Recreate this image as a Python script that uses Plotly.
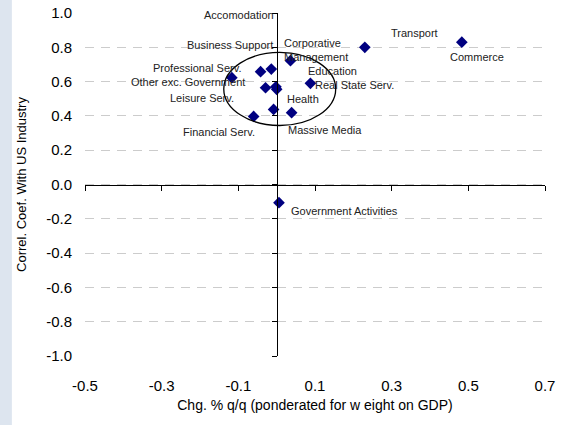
import plotly.graph_objects as go

# ---- data ----
sectors = ["Transport", "Commerce", "Government Activities", "Corporative<br>Management",
           "Accomodation", "Business Support", "Professional Serv.", "Other exc. Government",
           "Leisure Serv.", "Education", "Real State Serv.", "Health", "Financial Serv.",
           "Massive Media"]
chg_qq = [0.23, 0.483, 0.006, 0.036, -0.002, -0.014, -0.042, -0.117,
          -0.029, 0.0, 0.088, -0.008, -0.06, 0.039]
correl = [0.80, 0.83, -0.106, 0.722, 0.57, 0.673, 0.658, 0.623,
          0.564, 0.555, 0.59, 0.438, 0.397, 0.419]

x_ticks = [-0.5, -0.3, -0.1, 0.1, 0.3, 0.5, 0.7]
y_ticks = [-1.0, -0.8, -0.6, -0.4, -0.2, 0.0, 0.2, 0.4, 0.6, 0.8, 1.0]

# highlight ellipse bounds (data units)
ellipse_x = [-0.138, 0.154]
ellipse_y = [0.344, 0.770]

# ---- label styling (pixel offsets, anchors) ----
label_style = {
    "Transport": ("left", 24, 14),
    "Commerce": ("left", -14, -15),
    "Government Activities": ("left", 10, -8),
    "Corporative<br>Management": ("left", -8, 11),
    "Accomodation": ("right", 0, 72),
    "Business Support": ("right", 4, 24),
    "Professional Serv.": ("right", -18, 4),
    "Other exc. Government": ("right", 15, -4),
    "Leisure Serv.": ("right", -30, -10),
    "Education": ("left", 29, 18),
    "Real State Serv.": ("left", 3, -2),
    "Health": ("left", 11, 10),
    "Financial Serv.": ("right", 3, -16),
    "Massive Media": ("left", -6, -17),
}

FONT = "Liberation Sans, Arial, sans-serif"
XR = [-0.5, 0.7]
YR = [-1.0, 1.0]

fig = go.Figure()
fig.add_trace(go.Scatter(
    x=chg_qq, y=correl, mode="markers",
    marker=dict(symbol="diamond", size=9, color="#000080"),
    hoverinfo="skip", showlegend=False))
# carrier trace for the crossing axes
fig.add_trace(go.Scatter(x=[None], y=[None], xaxis="x2", yaxis="y2",
                         showlegend=False, hoverinfo="skip"))

for name, xv, yv in zip(sectors, chg_qq, correl):
    anchor, dx, dy = label_style[name]
    fig.add_annotation(x=xv, y=yv, text=name, showarrow=False,
                       xanchor=anchor, yanchor="middle", align="left",
                       xshift=dx, yshift=dy,
                       font=dict(family=FONT, size=11, color="#222222"))

fig.add_shape(type="circle", xref="x", yref="y",
              x0=ellipse_x[0], x1=ellipse_x[1], y0=ellipse_y[0], y1=ellipse_y[1],
              line=dict(color="black", width=1.3))

# left light band
fig.add_shape(type="rect", xref="paper", yref="paper",
              x0=-0.2, x1=-0.159, y0=-0.25, y1=1.05,
              fillcolor="#dde5ef", line_width=0, layer="below")

fig.update_layout(
    width=572, height=425,
    margin=dict(l=85, r=27, t=13, b=69, autoexpand=False),
    paper_bgcolor="white", plot_bgcolor="white",
    font=dict(family=FONT, color="black"),
    xaxis=dict(range=XR, tickvals=x_ticks, ticktext=[f"{v:.1f}" for v in x_ticks],
               showgrid=False, zeroline=False, showline=False, ticks="",
               automargin=False,
               ticklabelstandoff=19, tickfont=dict(size=15),
               title=dict(text="Chg. % q/q (ponderated for w eight on GDP)",
                          font=dict(size=14), standoff=7)),
    yaxis=dict(range=YR, tickvals=y_ticks, ticktext=[f"{v:.1f}" for v in y_ticks],
               showgrid=True, gridcolor="#cccccc", griddash="9px,7px", gridwidth=1,
               zeroline=False, showline=False, ticks="", automargin=False,
               ticklabelstandoff=12, tickfont=dict(size=15),
               title=dict(text="Correl. Coef. With US Industry",
                          font=dict(size=13), standoff=16)),
    xaxis2=dict(range=XR, overlaying="x", anchor="free", position=0.5,
                tickvals=x_ticks, showticklabels=False, showgrid=False,
                zeroline=False, showline=True, linecolor="black", linewidth=1,
                ticks="outside", ticklen=5, tickcolor="black", automargin=False),
    yaxis2=dict(range=YR, overlaying="y", anchor="free", position=0.5 / 1.2,
                tickvals=y_ticks, showticklabels=False, showgrid=False,
                zeroline=False, showline=True, linecolor="black", linewidth=1,
                ticks="outside", ticklen=5, tickcolor="black", automargin=False),
)

fig.write_html("out.html", config={"displayModeBar": False},
               post_script="document.body.style.margin='0';")
